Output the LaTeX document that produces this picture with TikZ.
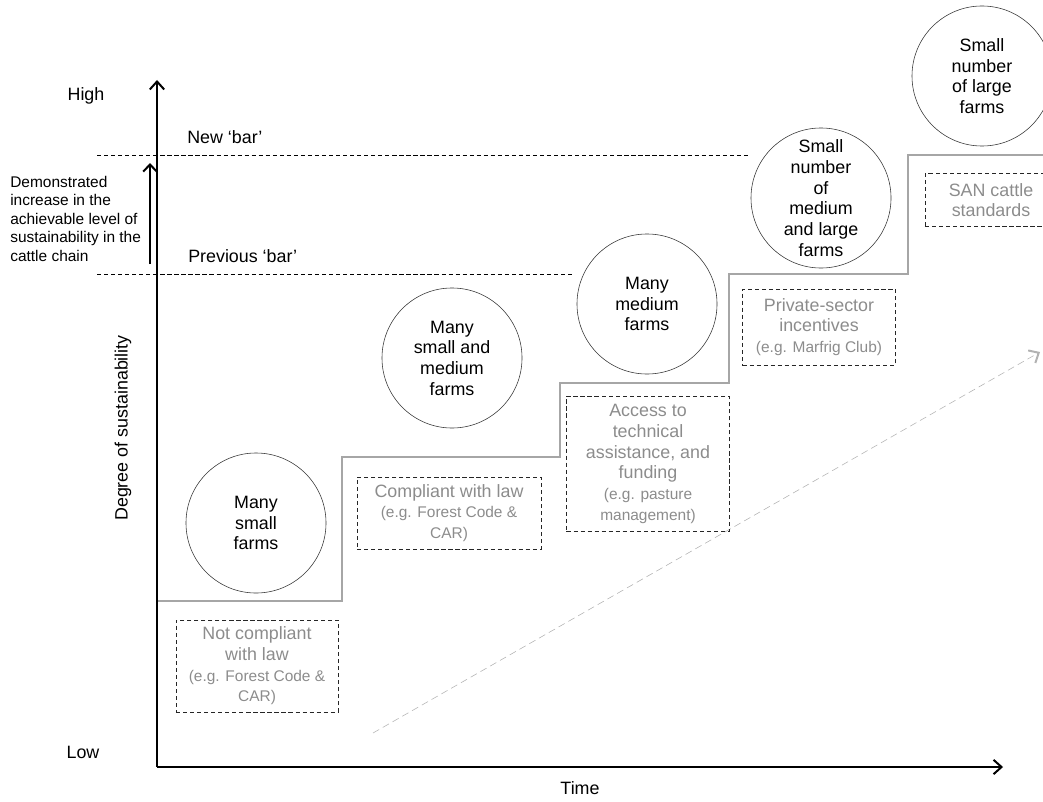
\documentclass[tikz,border=0pt]{standalone}
\usepackage{fontspec}
\setmainfont{Liberation Sans}
\usetikzlibrary{arrows.meta}
\newcommand{\egfont}{\fontsize{11}{13.2}\selectfont}
\begin{document}
\begin{tikzpicture}
[
 x=0.025cm, y=-0.025cm,
 inner sep=0mm,
 F/.style={circle, draw=black!80, thin, minimum size=3.5cm, align=center, font=\fontsize{12.7}{14.7}\selectfont},
 B/.style={rectangle, draw=black!85, densely dashed, thin, align=center, text=black!45, font=\fontsize{12.7}{14.7}\selectfont},
 L/.style={font=\fontsize{12.7}{14.7}\selectfont},
 AX/.style={draw=black, line width=0.4mm, -{Straight Barb[length=2mm, width=3.6mm, line width=0.5mm]}},
 BAR/.style={draw=black, densely dashed, thin},
 STEP/.style={draw=black!35, line width=0.5mm},
 TREND/.style={draw=black!30, dash pattern=on 5pt off 3pt, thin, -{Straight Barb[length=2mm, width=3.6mm, line width=0.5mm]}}
 ]
\useasboundingbox (0,0) rectangle (1043,801);
%
\coordinate (O)  at (157,767);
\coordinate (YT) at (157,80);
\coordinate (XT) at (1003,767);
\coordinate (NB1) at (97,155);
\coordinate (NB2) at (748,155);
\coordinate (PB1) at (97,274);
\coordinate (PB2) at (575,274);
\coordinate (D1) at (150,264);
\coordinate (D2) at (150,163);
\coordinate (T1) at (373,733);
\coordinate (T2) at (1040,352);
%
\draw [BAR] (NB1) -- (NB2);
\draw [BAR] (PB1) -- (PB2);
\draw [STEP] (157,601) -- (342,601) -- (342,457) -- (560,457) -- (560,383)
  -- (729,383) -- (729,274) -- (908,274) -- (908,155) -- (1043,155);
\draw [TREND] (T1) -- (T2);
%
\draw [AX] (O) -- (YT);
\draw [AX] (O) -- (XT);
\draw [line width=0.4mm, -{Straight Barb[length=1.8mm, width=3.4mm, line width=0.5mm]}] (D1) -- (D2);
%
\node [L] (HI)   at (86,96)   {High};
\node [L] (LO)   at (83,752)  {Low};
\node [L] (TI)   at (580,788) {Time};
\node [L, rotate=90] (DS) at (123,428) {Degree of sustainability};
\node [L, anchor=west] (NB) at (187,137) {New ‘bar’};
\node [L, anchor=west] (PB) at (188,256) {Previous ‘bar’};
\node [anchor=north west, align=left, font=\fontsize{11}{13.1}\selectfont] (DM) at (10,176)
  {Demonstrated\\increase in the\\achievable level of\\sustainability in the\\cattle chain};
%
\node [F] (F1) at (256,523) {Many\\small\\farms};
\node [F] (F2) at (452,358) {Many\\small and\\medium\\farms};
\node [F] (F3) at (647,304) {Many\\medium\\farms};
\node [F] (F4) at (821,198) {Small\\number\\of\\medium\\and large\\farms};
\node [F] (F5) at (982,76)  {Small\\number\\of large\\farms};
%
\node [B, minimum width=4.05cm, minimum height=2.3cm]   (B1) at (257,666)
  {Not compliant\\with law\\{\egfont(e.g. Forest Code \&}\\{\egfont CAR)}};
\node [B, minimum width=4.6cm, minimum height=1.8cm]    (B2) at (449,513)
  {Compliant with law\\{\egfont(e.g. Forest Code \&}\\{\egfont CAR)}};
\node [B, minimum width=4.075cm, minimum height=3.375cm] (B3) at (648,464)
  {Access to\\technical\\assistance, and\\funding\\{\egfont(e.g. pasture}\\{\egfont management)}};
\node [B, minimum width=3.825cm, minimum height=1.9cm]  (B4) at (819,327)
  {Private-sector\\incentives\\{\egfont(e.g. Marfrig Club)}};
\node [B, minimum width=3.3cm, minimum height=1.325cm]  (B5) at (991,200)
  {SAN cattle\\standards};
\end{tikzpicture}
\end{document}
